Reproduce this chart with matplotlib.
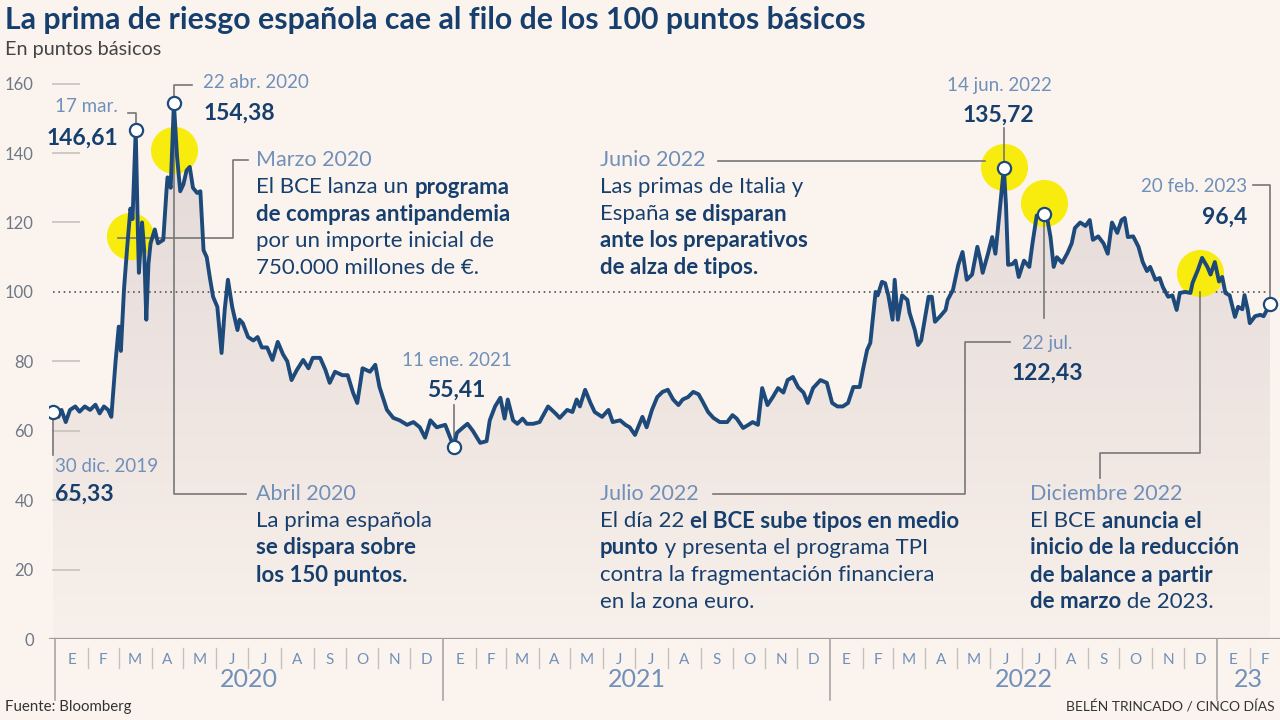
import matplotlib
matplotlib.use('Agg')
import matplotlib.pyplot as plt
from matplotlib.colors import LinearSegmentedColormap
import numpy as np
import pandas as pd

plt.rcParams['font.family'] = ['Lato', 'DejaVu Sans']

# serie: dias desde 30 dic. 2019 y prima de riesgo (puntos basicos)
start = pd.Timestamp('2019-12-30')
days = [0, 5, 8, 12, 16, 21, 25, 30, 35, 40,
        44, 48, 52, 55, 57, 59, 62, 64, 67, 70,
        73, 75, 78, 80, 81, 84, 86, 88, 90, 92,
        96, 99, 104, 107, 108, 111, 114, 117, 120, 123,
        126, 129, 132, 136, 139, 142, 145, 148, 151, 155,
        159, 162, 165, 169, 174, 176, 179, 184, 189, 193,
        197, 202, 207, 212, 217, 221, 225, 230, 236, 241,
        245, 252, 257, 261, 266, 273, 278, 283, 287, 292,
        299, 304, 308, 315, 321, 327, 334, 340, 346, 351,
        356, 362, 370, 378, 381, 387, 391, 396, 403, 409,
        412, 417, 422, 426, 429, 434, 438, 443, 447, 453,
        459, 467, 474, 478, 485, 490, 494, 497, 502, 507,
        511, 518, 524, 528, 535, 540, 544, 549, 556, 560,
        565, 570, 575, 580, 585, 590, 594, 599, 604, 609,
        613, 618, 623, 629, 636, 641, 645, 651, 656, 660,
        665, 669, 674, 679, 684, 689, 693, 698, 703, 708,
        712, 717, 724, 730, 735, 740, 745, 750, 755, 761,
        764, 768, 771, 776, 778, 782, 785, 788, 792, 794,
        797, 801, 806, 808, 813, 816, 819, 826, 829, 832,
        837, 842, 844, 849, 854, 858, 862, 867, 872, 875,
        877, 882, 886, 889, 891, 897, 899, 901, 905, 908,
        911, 916, 921, 924, 928, 935, 938, 941, 944, 947,
        952, 957, 961, 964, 969, 974, 978, 981, 986, 991,
        995, 999, 1004, 1008, 1011, 1014, 1019, 1024, 1028, 1032,
        1035, 1040, 1044, 1047, 1052, 1056, 1060, 1063, 1068, 1073,
        1075, 1080, 1084, 1089, 1092, 1096, 1100, 1103, 1106, 1110,
        1115, 1118, 1122, 1124, 1127, 1129, 1134, 1139, 1142, 1148]
values = [65.33, 64, 66, 62.5, 66, 67, 65.5, 67, 66, 67.5,
          65, 67, 66, 64, 72, 80, 90, 83, 101, 113,
          124, 121, 146.61, 118, 105.5, 120, 112, 92, 108, 114,
          118, 114, 115, 129, 133, 130, 154.38, 139, 129, 131,
          135, 136, 130, 128.5, 129, 112, 110, 104, 98.6, 95.7,
          82.4, 95, 103.5, 95.7, 89, 92, 91, 87, 86, 87,
          84, 84, 80.4, 85.6, 82, 80, 74.6, 77.5, 80.4, 78,
          81, 81, 77.5, 73.8, 77, 76, 76, 71, 68, 78,
          77, 79, 72.6, 66, 63.7, 63, 61.7, 62.5, 61, 58,
          63, 61, 61.7, 55.41, 59.4, 61, 62, 60, 56.5, 57,
          63, 67, 69.5, 63.5, 69, 63, 62, 63.5, 62, 62,
          62.5, 67, 65, 63.7, 66, 65.4, 69, 67, 71.8, 68,
          65.4, 64, 66, 62.5, 63, 61.7, 61, 58.8, 64, 61,
          66, 69.7, 71.2, 71.8, 69, 67.4, 69, 69.7, 71.2, 70.5,
          68.3, 65.4, 63.7, 62.5, 62.5, 64.5, 63.5, 60.8, 61.7, 62.5,
          61.7, 72.3, 67.4, 69.7, 72.3, 71, 74.6, 75.5, 72.5, 71,
          68, 72.3, 74.6, 73.8, 68, 67, 67, 68, 72.6, 72.6,
          77.5, 83.3, 85.3, 100, 99, 102.9, 102.5, 99, 92, 103.5,
          92, 99, 97.7, 94, 89, 84.7, 86, 98.6, 98.6, 91.4,
          93, 94.8, 97.7, 100.6, 107.8, 111.5, 103.5, 105, 113, 109,
          105.5, 111, 115.8, 111, 117, 135.72, 125, 107.8, 108, 109,
          104.3, 109, 107.2, 114, 122, 122.43, 121, 115.8, 107.2, 110,
          108.4, 111.2, 114, 118.4, 120, 119, 120.7, 115, 116, 114,
          111, 120, 117, 120.7, 121.3, 115.8, 116, 113, 108.6, 106,
          107.2, 103.5, 104, 101.4, 98.6, 99, 94.8, 99.7, 100, 99.7,
          102.6, 106.3, 109.8, 107.2, 105, 108.6, 103, 104.3, 99.7, 99,
          92.8, 95.7, 95, 99.1, 95, 91, 93, 93.4, 93, 96.4]

# puntos destacados (circulos blancos)
mark_days = [0, 78, 114, 378, 897, 935, 1148]
mark_vals = [65.33, 146.61, 154.38, 55.41, 135.72, 122.43, 96.4]
# decisiones del BCE (circulos amarillos)
event_days = [73, 114, 897, 935, 1082]
event_vals = [116, 141, 136, 125.5, 105.5]

yticks = [0, 20, 40, 60, 80, 100, 120, 140, 160]
month_letters = ['E', 'F', 'M', 'A', 'M', 'J', 'J', 'A', 'S', 'O', 'N', 'D']
year_labels = ['2020', '2021', '2022', '23']

BG = '#FBF4EE'
NAVY = '#173F6E'
LINE = '#1D4A7A'
LIGHT = '#7090BA'
YELLOW = '#F8EC0E'

W, H = 1280, 720
fig = plt.figure(figsize=(12.8, 7.2), dpi=100, facecolor=BG)
ax = fig.add_axes([49 / W, 1 - 639 / H, 1 - 49 / W, (639 - 42) / H])
ax.set_facecolor(BG)

# relleno degradado bajo la linea
grad = np.linspace(0, 1, 256).reshape(-1, 1)
cmap = LinearSegmentedColormap.from_list('g', ['#F8F0EA', '#E2D7D6'])
im = ax.imshow(grad, extent=[days[0], days[-1], 0, 160], origin='lower',
               aspect='auto', cmap=cmap, zorder=1)
poly = ax.fill_between(days, values, 0, facecolor='none', edgecolor='none')
im.set_clip_path(poly.get_paths()[0], transform=ax.transData)

ax.plot([days[0], days[-1]], [100, 100], color='#555555', lw=1.2,
        ls=(0, (1, 2.2)), zorder=2)
ax.hlines([v for v in yticks if v not in (0, 100)], -1, 25, color='#C8C2BE', lw=1.2, zorder=2)

ax.scatter(event_days, event_vals, s=1150, color=YELLOW, zorder=3, lw=0)
ax.plot(days, values, color=LINE, lw=2.8, zorder=5, solid_joinstyle='round')
ax.plot(mark_days, mark_vals, 'o', ms=9.5, mfc='white', mec=LINE, mew=1.6, zorder=6)

# lineas guia
leaders = [
    [(0, 65.33), (0, 53)],
    [(71, 151.5), (78, 151.5), (78, 146.61)],
    [(114, 154.38), (114, 159.5), (131, 159.5)],
    [(184, 138), (170, 138), (170, 115.6), (61, 115.6)],
    [(114, 154.38), (114, 41.8), (182, 41.8)],
    [(378, 55.41), (378, 67.4)],
    [(627, 137.8), (879, 137.8)],
    [(897, 135.72), (897, 147.3)],
    [(935, 122.43), (935, 92.5)],
    [(623, 41.8), (860, 41.8), (860, 85.6), (903, 85.6)],
    [(1132, 130.8), (1148, 130.8), (1148, 96.4)],
    [(988, 46.4), (988, 53.6), (1082, 53.6), (1082, 100)],
]
for path in leaders:
    xs, ys = zip(*path)
    ax.plot(xs, ys, color='#777777', lw=1.2, zorder=4, clip_on=False)

# eje x con meses y anos
month_starts = pd.date_range('2020-01-01', '2023-03-01', freq='MS')
md = [(m - start).days for m in month_starts]
ax.axhline(0, color='#9A9A9A', lw=1.6, zorder=2)
for i in range(len(md) - 1):
    ax.text((md[i] + md[i + 1]) / 2, -6, month_letters[i % 12], ha='center', va='center',
            fontsize=11, color=LIGHT, clip_on=False)
    if month_starts[i].month == 1:
        ax.plot([md[i], md[i]], [0, -17.6], color='#A0A0A0', lw=1.1, clip_on=False)
    else:
        ax.plot([md[i], md[i]], [-2.6, -8.4], color='#C6C0BC', lw=1.0, clip_on=False)
year_starts = [md[i] for i in range(len(md)) if month_starts[i].month == 1] + [md[-1]]
for j, lab in enumerate(year_labels):
    ax.text((year_starts[j] + year_starts[j + 1]) / 2, -11.8, lab, ha='center', va='center',
            fontsize=18, color=LIGHT, clip_on=False)

ax.set_xlim(-3.8, 1157.5)
ax.set_ylim(0, 172)
ax.set_yticks(yticks)
ax.set_yticklabels([str(v) for v in yticks])
ax.tick_params(axis='y', length=0, pad=11, labelsize=12, labelcolor='#6E7886')
ax.set_xticks([])
for s in ax.spines.values():
    s.set_visible(False)


def fx(x):
    return x / W


def fy(y):
    return 1 - y / H


def label(x, y, txt, ha='left', bold=False, color=LIGHT, size=13.5):
    fig.text(fx(x), fy(y), txt, ha=ha, va='center', fontsize=size, color=color,
             fontweight='bold' if bold else 'normal')


renderer = fig.canvas.get_renderer()


def rich(x, y, parts, size=16):
    cx = x
    for txt, bold in parts:
        t = fig.text(fx(cx), fy(y), txt, ha='left', va='center', fontsize=size, color=NAVY,
                     fontweight='bold' if bold else 'normal')
        cx += t.get_window_extent(renderer).width


def block(x, y0, title, lines, step=27):
    label(x, y0, title, size=15.5)
    for k, parts in enumerate(lines):
        rich(x, y0 + step * (k + 1), parts)


fig.text(fx(5), fy(20), 'La prima de riesgo española cae al filo de los 100 puntos básicos',
         fontsize=21.8, fontweight='bold', color=NAVY, va='center')
fig.text(fx(5), fy(50), 'En puntos básicos', fontsize=14.3, color='#444444', va='center')

NUM = 16.5
label(118, 107, '17 mar.', ha='right')
label(118, 138, '146,61', ha='right', bold=True, color=NAVY, size=NUM)
label(203, 83, '22 abr. 2020')
label(204, 113, '154,38', bold=True, color=NAVY, size=NUM)
label(55, 467, '30 dic. 2019')
label(55, 494, '65,33', bold=True, color=NAVY, size=NUM)
label(457, 360, '11 ene. 2021', ha='center')
label(456, 390, '55,41', ha='center', bold=True, color=NAVY, size=NUM)
label(999, 85, '14 jun. 2022', ha='center')
label(998, 115, '135,72', ha='center', bold=True, color=NAVY, size=NUM)
label(1047, 343, '22 jul.', ha='center')
label(1047, 373, '122,43', ha='center', bold=True, color=NAVY, size=NUM)
label(1247, 187, '20 feb. 2023', ha='right')
label(1247, 217, '96,4', ha='right', bold=True, color=NAVY, size=NUM)

block(256, 160, 'Marzo 2020', [
    [('El BCE lanza un ', False), ('programa', True)],
    [('de compras antipandemia', True)],
    [('por un importe inicial de', False)],
    [('750.000 millones de €.', False)],
])
block(256, 494, 'Abril 2020', [
    [('La prima española', False)],
    [('se dispara sobre', True)],
    [('los 150 puntos.', True)],
])
block(600, 160, 'Junio 2022', [
    [('Las primas de Italia y', False)],
    [('España ', False), ('se disparan', True)],
    [('ante los preparativos', True)],
    [('de alza de tipos.', True)],
])
block(600, 494, 'Julio 2022', [
    [('El día 22 ', False), ('el BCE sube tipos en medio', True)],
    [('punto', True), (' y presenta el programa TPI', False)],
    [('contra la fragmentación financiera', False)],
    [('en la zona euro.', False)],
])
block(1030, 494, 'Diciembre 2022', [
    [('El BCE ', False), ('anuncia el', True)],
    [('inicio de la reducción', True)],
    [('de balance a partir', True)],
    [('de marzo', True), (' de 2023.', False)],
])

fig.text(fx(5), fy(707), 'Fuente: Bloomberg', fontsize=10.8, color='#333333', va='center')
fig.text(fx(1275), fy(707), 'BELÉN TRINCADO / CINCO DÍAS', fontsize=10, color='#333333',
         va='center', ha='right')

fig.savefig('out.png', dpi=100, facecolor=BG)
